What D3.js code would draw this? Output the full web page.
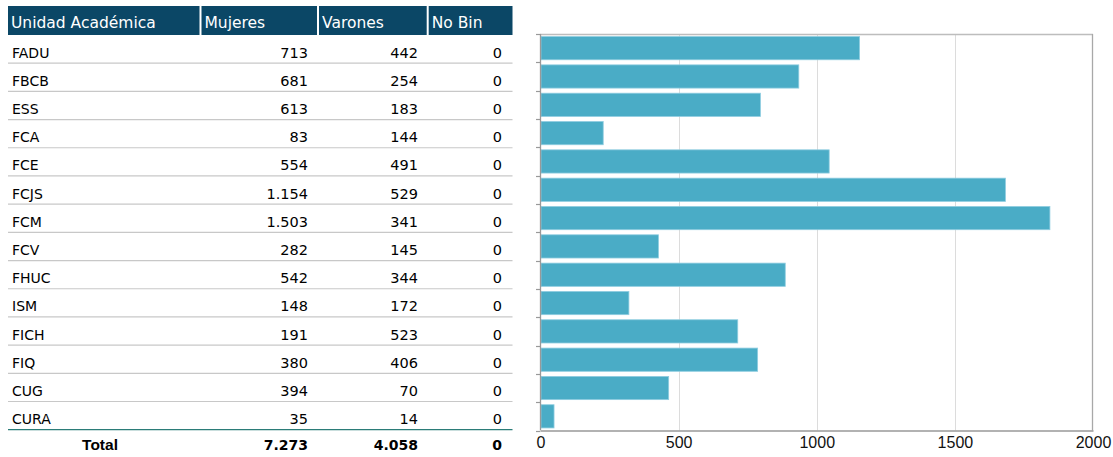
<!DOCTYPE html>
<html><head><meta charset="utf-8">
<script src="https://cdn.jsdelivr.net/npm/d3@7"></script>
<style>html,body{margin:0;padding:0;background:#fff;}svg{display:block;}</style>
</head><body>
<svg id="c" width="1113" height="457"></svg>
<script>
const unidades = ["FADU","FBCB","ESS","FCA","FCE","FCJS","FCM","FCV","FHUC","ISM","FICH","FIQ","CUG","CURA"];
const mujeres  = [713,681,613,83,554,1154,1503,282,542,148,191,380,394,35];
const varones  = [442,254,183,144,491,529,341,145,344,172,523,406,70,14];
const noBin    = [0,0,0,0,0,0,0,0,0,0,0,0,0,0];
const headers  = ["Unidad Académica","Mujeres","Varones","No Bin"];
const xTicks   = [0,500,1000,1500,2000];

(function(){
const loc = d3.formatLocale({decimal:",", thousands:".", grouping:[3], currency:["$",""]});
const fmt = loc.format(",d");

const svg = d3.select("#c");
const pTop = 34, pBottom = 430.5;
const tTop = 35, tBottom = 429.7;

// ---- table ----
const cols = [{x0:8,x1:199.5},{x0:201.5,x1:317},{x0:319,x1:426.7},{x0:428.7,x1:512.5}];
const rightEdge = [null,308,418,502];
const rowY = d3.scaleBand().domain(unidades).range([tTop,tBottom]);
const rStep = rowY.step();

const hdr = svg.append("g");
cols.forEach((c,i)=>{
  hdr.append("rect").attr("x",c.x0).attr("y",6).attr("width",c.x1-c.x0).attr("height",29).attr("fill","#0b4766");
  hdr.append("text").attr("x",c.x0+3).attr("y",27.5).attr("fill","#fff")
    .attr("font-family","DejaVu Sans").attr("font-size",15.5).text(headers[i]);
});

const rows = svg.append("g").attr("font-family","DejaVu Sans").attr("font-size",14).attr("fill","#000");
unidades.forEach((u,i)=>{
  const r1 = rowY(u) + rStep;
  const base = r1 - 5.5;
  rows.append("text").attr("x",12).attr("y",base).text(u);
  [mujeres[i],varones[i],noBin[i]].forEach((v,j)=>{
    rows.append("text").attr("x",rightEdge[j+1]).attr("y",base).attr("text-anchor","end").attr("font-size",14.5).text(fmt(v));
  });
  if(i<unidades.length-1){
    rows.append("line").attr("x1",8).attr("x2",512.5).attr("y1",r1).attr("y2",r1).attr("stroke","#c8c8c8").attr("stroke-width",1.2);
  }
});
svg.append("line").attr("x1",8).attr("x2",512.5).attr("y1",tBottom).attr("y2",tBottom).attr("stroke","#2b7c78").attr("stroke-width",1.3);

const tot = svg.append("g").attr("font-weight","bold").attr("fill","#000");
const totBase = 450;
tot.append("text").attr("x",100).attr("y",totBase).attr("text-anchor","middle").attr("font-family","Liberation Sans").attr("font-size",15.5).text("Total");
[d3.sum(mujeres),d3.sum(varones),d3.sum(noBin)].forEach((v,j)=>{
  tot.append("text").attr("x",rightEdge[j+1]).attr("y",totBase).attr("text-anchor","end").attr("font-family","DejaVu Sans").attr("font-size",14).text(fmt(v));
});

// ---- chart ----
const x = d3.scaleLinear().domain([0,2000]).range([540.5,1093]);
const y = d3.scaleBand().domain(unidades).range([pTop,pBottom]).paddingInner(0.18).paddingOuter(0.09);
const step = y.step();
const totals = unidades.map((u,i)=>mujeres[i]+varones[i]+noBin[i]);

const ch = svg.append("g");
xTicks.slice(1,-1).forEach(t=>{
  ch.append("line").attr("x1",Math.round(x(t))+0.5).attr("x2",Math.round(x(t))+0.5).attr("y1",pTop).attr("y2",pBottom).attr("stroke","#dcdcdc");
});
ch.append("line").attr("x1",540).attr("x2",1093).attr("y1",pTop+0.5).attr("y2",pTop+0.5).attr("stroke","#bdbdbd").attr("stroke-width",1.3);
ch.append("line").attr("x1",1092.5).attr("x2",1092.5).attr("y1",pTop).attr("y2",pBottom).attr("stroke","#a8a8a8").attr("stroke-width",1.3);

ch.selectAll("rect.bar").data(unidades).join("rect").attr("class","bar")
  .attr("x",x(0)+0.5).attr("y",d=>y(d))
  .attr("width",(d,i)=>x(totals[i])-x(0)-0.5).attr("height",y.bandwidth())
  .attr("fill","#4aacc6").attr("stroke","#8fcde0").attr("stroke-width",0.8);

for(let i=0;i<=unidades.length;i++){
  const yy = Math.round(pTop+i*step)+0.5;
  ch.append("line").attr("x1",536).attr("x2",540.5).attr("y1",yy).attr("y2",yy).attr("stroke","#999").attr("stroke-width",1.2);
}
ch.append("line").attr("x1",540.5).attr("x2",540.5).attr("y1",pTop).attr("y2",pBottom).attr("stroke","#999").attr("stroke-width",1.3);

const xAxis = d3.axisBottom(x).tickValues(xTicks).tickSize(0).tickPadding(6).tickFormat(d3.format("d"));
const ax = ch.append("g").attr("transform",`translate(0,${pBottom})`).call(xAxis);
ax.attr("font-size",null).attr("font-family",null);
ax.select(".domain").attr("stroke","#999").attr("stroke-width",1.3);
ax.selectAll("text").style("font-family","Liberation Sans, Arial").style("font-size","16px").attr("fill","#111");
})();
</script>
</body></html>
